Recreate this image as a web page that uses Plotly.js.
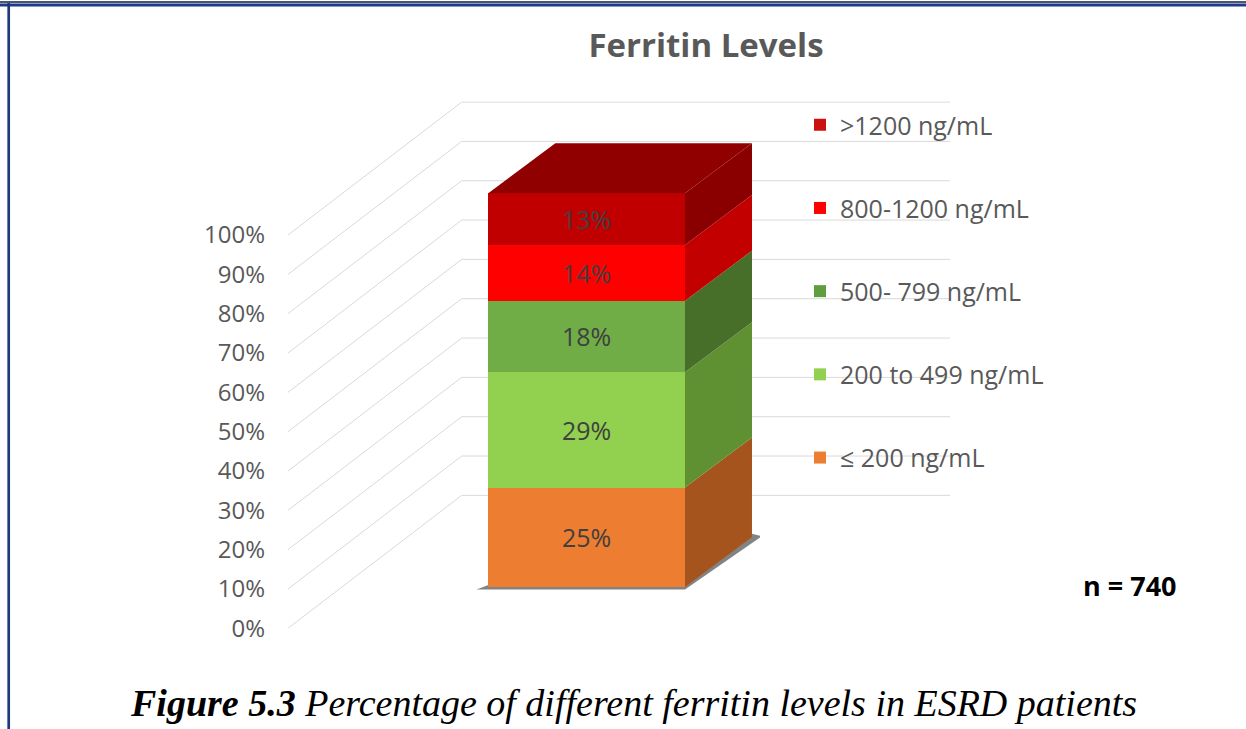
<!DOCTYPE html>
<html>
<head>
<meta charset="utf-8">
<script src="https://cdn.plot.ly/plotly-3.0.1.min.js"></script>
<style>html,body{margin:0;padding:0;background:#fff;}#chart{width:1246px;height:729px;}</style>
</head>
<body>
<div id="chart"></div>
<script>
// ---- data ----
const categories = ["\u2264 200 ng/mL", "200 to 499 ng/mL", "500- 799 ng/mL", "800-1200 ng/mL", ">1200 ng/mL"];
const values = [25, 29, 18, 14, 13];
const tickValues = [0, 10, 20, 30, 40, 50, 60, 70, 80, 90, 100];
const tickLabels = ["0%", "10%", "20%", "30%", "40%", "50%", "60%", "70%", "80%", "90%", "100%"];

// ---- styles ----
const frontColors = ["#ed7d31", "#92d050", "#70ad47", "#ff0000", "#c00000"];
const sideColors  = ["#a5541e", "#5f9032", "#476f29", "#c20000", "#8a0000"];
const topColor = "#900000";
const legendColors = ["#ed7d31", "#92d050", "#5f9e3e", "#ff0000", "#cc1010"];
const FONT = "Open Sans, Lato, sans-serif";
const GRAY = "#595959";

// projection geometry
const depthX = 0.3406;   // in bar x-units
const depthY = 12.7;     // in bar y-units
const wallX = 0.2624;    // wall corner in wall x-units
const wallY = 33.8;      // wall rise in wall y-units

const traces = [];
// back-wall gridlines from tick values
const gx = [], gy = [];
tickValues.forEach(v => {
  gx.push(0, wallX, 1, null);
  gy.push(v, v + wallY, v + wallY, null);
});
traces.push({
  type: "scatter", mode: "lines", x: gx, y: gy, xaxis: "x", yaxis: "y",
  line: {color: "#d9d9d9", width: 1}, hoverinfo: "skip", showlegend: false
});

categories.forEach((c, i) => {
  traces.push({
    type: "bar", name: c, x: [0], y: [values[i]], width: 1,
    xaxis: "x2", yaxis: "y2",
    marker: {color: frontColors[i], line: {width: 0}},
    text: [values[i] + "%"], textposition: "inside", insidetextanchor: "middle",
    constraintext: "none",
    textfont: {family: FONT, size: 25, color: "#404040"},
    legendgroup: "g" + i, hoverinfo: "name+y",
    showlegend: false
  });
});
// legend entries (top to bottom: highest level first)
categories.forEach((c, i) => {
  traces.push({
    type: "bar", name: c, x: [null], y: [null], xaxis: "x2", yaxis: "y2",
    marker: {color: legendColors[i]}, legendgroup: "g" + i, showlegend: true,
    legendrank: categories.length - i, hoverinfo: "skip"
  });
});

// 3D side and top faces computed from the normalized stack
const total = values.reduce((a, b) => a + b, 0);
const shapes = [];
let cum = 0;
const pth = pts => "M" + pts.map(p => p[0] + "," + p[1]).join("L") + "Z";
// floor shadow
shapes.push({
  type: "path", xref: "x2", yref: "y2", layer: "below",
  path: pth([[-0.56, -0.6], [0.5, -0.6], [0.5 + depthX + 0.05, depthY + 0.2], [0.5 + depthX, depthY + 0.8], [-0.5, 0.5]]),
  fillcolor: "rgba(90,90,90,0.75)", line: {width: 0}
});
values.forEach((v, i) => {
  const b = cum / total * 100;
  cum += v;
  const t = cum / total * 100;
  shapes.push({
    type: "path", xref: "x2", yref: "y2", layer: "above",
    path: pth([[0.5, b], [0.5 + depthX, b + depthY], [0.5 + depthX, t + depthY], [0.5, t]]),
    fillcolor: sideColors[i], line: {width: 0}
  });
});
shapes.push({
  type: "path", xref: "x2", yref: "y2", layer: "above",
  path: pth([[-0.5, 100], [-0.5 + depthX, 100 + depthY], [0.5 + depthX, 100 + depthY], [0.5, 100]]),
  fillcolor: topColor, line: {width: 0}
});
// page frame
shapes.push({type: "line", xref: "paper", yref: "paper", x0: 0, x1: 1, y0: 1 - 2/729, y1: 1 - 2/729, line: {color: "#0b1d45", width: 1.5}});
shapes.push({type: "line", xref: "paper", yref: "paper", x0: 0, x1: 1, y0: 1 - 5/729, y1: 1 - 5/729, line: {color: "#1f3a8a", width: 3}});
shapes.push({type: "line", xref: "paper", yref: "paper", x0: 8.7/1246, x1: 8.7/1246, y0: 0, y1: 1 - 3/729, line: {color: "#1f3a7a", width: 2.7}});

const layout = {
  width: 1246, height: 729,
  margin: {l: 0, r: 0, t: 0, b: 0},
  paper_bgcolor: "#ffffff", plot_bgcolor: "rgba(0,0,0,0)",
  barmode: "stack", barnorm: "percent",
  showlegend: true,
  title: {text: "<b>Ferritin Levels</b>", x: 706/1246, xanchor: "center", y: 1 - 45/729, yanchor: "middle",
          font: {family: FONT, size: 33, color: GRAY}},
  xaxis: {domain: [288/1246, 950/1246], range: [0, 1], visible: false, fixedrange: true},
  yaxis: {domain: [(729 - 628.3)/729, (729 - 628.3 + 134*3.933)/729], range: [0, 134], anchor: "x",
          tickvals: tickValues, ticktext: tickLabels, showgrid: false, zeroline: false, showline: false,
          ticks: "", ticklabelstandoff: 22, tickfont: {family: FONT, size: 24, color: GRAY}, fixedrange: true},
  xaxis2: {domain: [476/1246, 760/1246], range: [-0.5625, 0.8813], visible: false, anchor: "y2", fixedrange: true},
  yaxis2: {domain: [0.18395, 0.81591], range: [-2, 115], visible: false, anchor: "x2", fixedrange: true},
  legend: {x: 800/1246, xanchor: "left", y: (729 - 102)/729, yanchor: "top",
           traceorder: "grouped", tracegroupgap: 47.7,
           font: {family: FONT, size: 25, color: GRAY}, bgcolor: "rgba(0,0,0,0)"},
  shapes: shapes,
  annotations: [
    {xref: "paper", yref: "paper", x: 1130/1246, y: (729 - 585)/729, xanchor: "center", yanchor: "middle",
     showarrow: false, text: "<b>n = 740</b>", font: {family: FONT, size: 27, color: "#000000"}},
    {xref: "paper", yref: "paper", x: 633/1246, y: (729 - 703)/729, xanchor: "center", yanchor: "middle",
     showarrow: false,
     text: "<b><i>Figure 5.3</i></b><i> Percentage of different ferritin levels in ESRD patients</i>",
     font: {family: "Liberation Serif, DejaVu Serif, serif", size: 38, color: "#000000"}}
  ]
};

Plotly.newPlot("chart", traces, layout, {displayModeBar: false, staticPlot: true});
</script>
</body>
</html>
